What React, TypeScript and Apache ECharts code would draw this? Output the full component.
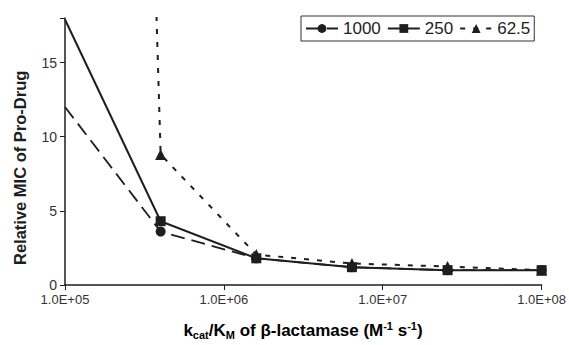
import React, { useEffect, useRef } from "react";
import * as echarts from "echarts";

const xValues = [1e5, 4e5, 1.6e6, 6.4e6, 2.56e7, 1e8];
const series1000 = [12, 3.6, 1.8, 1.2, 1.0, 1.0];
const series250 = [17.9, 4.3, 1.8, 1.2, 1.0, 1.0];
const series62 = [224, 8.8, 2.05, 1.45, 1.25, 1.0];
const seriesNames = ["1000", "250", "62.5"];
const yTicks = [0, 5, 10, 15];

const INK = "#1e1e1e";

function pairs(vals: number[]) {
  return xValues.map((x, i) => [x, vals[i]]);
}

export default function App() {
  const ref = useRef<HTMLDivElement>(null);
  useEffect(() => {
    if (!ref.current) return;
    const chart = echarts.init(ref.current, null, { renderer: "svg" });
    const font = "Arial, 'Liberation Sans', sans-serif";
    const hideFirst = (vals: number[]) =>
      pairs(vals).map((p, i) => (i === 0 ? { value: p, symbol: "none" } : { value: p }));
    chart.setOption({
      animation: false,
      backgroundColor: "#fff",
      grid: { left: 65, right: 27, top: 18, bottom: 60 },
      legend: {
        left: 301,
        top: 16,
        itemGap: 6,
        itemWidth: 32,
        itemHeight: 11,
        padding: [4, 4, 4, 4],
        borderColor: "#333",
        borderWidth: 1,
        backgroundColor: "#fff",
        textStyle: { fontFamily: font, fontSize: 17, color: INK },
        data: seriesNames,
      },
      xAxis: {
        type: "log",
        logBase: 10,
        min: 1e5,
        max: 1e8,
        axisLine: { lineStyle: { color: INK, width: 1.5 } },
        axisTick: { show: true, length: 5, lineStyle: { color: INK } },
        minorTick: { show: false },
        splitLine: { show: false },
        axisLabel: {
          fontFamily: font,
          fontSize: 13,
          color: "#333",
          margin: 8,
          formatter: (v: number) => {
            const e = Math.round(Math.log10(v));
            return "1.0E+" + (e < 10 ? "0" + e : "" + e);
          },
        },
      },
      yAxis: {
        type: "value",
        min: 0,
        max: 18,
        interval: 5,
        axisLine: { show: true, lineStyle: { color: INK, width: 1.5 } },
        axisTick: { show: true, length: 5, lineStyle: { color: INK } },
        splitLine: { show: false },
        axisLabel: {
          fontFamily: font,
          fontSize: 14,
          color: "#333",
          margin: 8,
          formatter: (v: number) => (yTicks.includes(v) ? String(v) : ""),
        },
      },
      graphic: [
        {
          type: "text",
          rotation: Math.PI / 2,
          x: 20,
          y: 265,
          style: {
            text: "Relative MIC of Pro-Drug",
            fontFamily: font,
            fontSize: 16.5,
            fontWeight: "bold",
            fill: INK,
            align: "left",
            verticalAlign: "middle",
          },
        },
        {
          type: "text",
          x: 303,
          y: 330,
          style: {
            text: "{n|k}{sub|cat}{n|/K}{sub|M}{n| of β-lactamase (M}{sup|-1}{n| s}{sup|-1}{n|)}",
            align: "center",
            verticalAlign: "middle",
            rich: {
              n: { fontFamily: font, fontSize: 17, fontWeight: "bold", color: INK, lineHeight: 20 },
              sub: { fontFamily: font, fontSize: 11, fontWeight: "bold", color: INK, verticalAlign: "bottom", lineHeight: 12, padding: [8, 0, 0, 0] },
              sup: { fontFamily: font, fontSize: 11, fontWeight: "bold", color: INK, verticalAlign: "top", lineHeight: 12, padding: [0, 0, 8, 0] },
            },
          },
        },
      ],
      series: [
        {
          name: seriesNames[0],
          type: "line",
          data: hideFirst(series1000),
          symbol: "circle",
          symbolSize: 10,
          itemStyle: { color: INK },
          lineStyle: { color: INK, width: 1.8, type: [14, 7] },
          z: 3,
        },
        {
          name: seriesNames[1],
          type: "line",
          data: hideFirst(series250),
          symbol: "rect",
          symbolSize: 10,
          itemStyle: { color: INK },
          lineStyle: { color: INK, width: 2, type: "solid" },
          z: 4,
        },
        {
          name: seriesNames[2],
          type: "line",
          data: hideFirst(series62),
          symbol: "triangle",
          symbolSize: 11,
          itemStyle: { color: INK },
          lineStyle: { color: INK, width: 2, type: [5, 8] },
          clip: true,
          z: 2,
        },
      ],
    });
    return () => chart.dispose();
  }, []);
  return (
    <div
      ref={ref}
      style={{ position: "absolute", left: 0, top: 0, width: 569, height: 345 }}
    />
  );
}
